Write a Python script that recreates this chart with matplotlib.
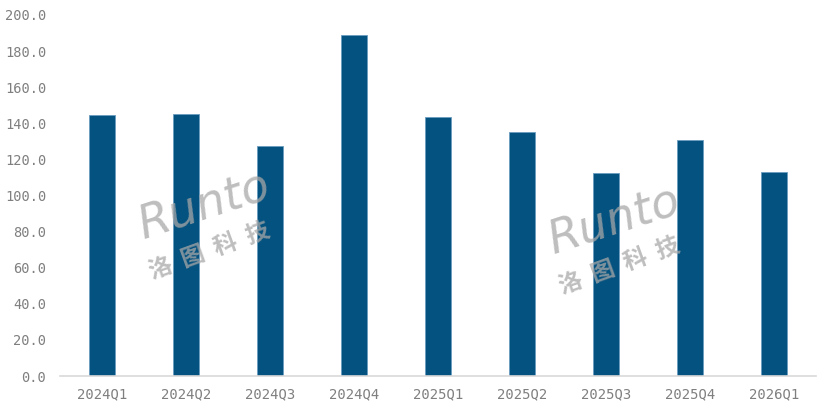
import matplotlib
matplotlib.use("Agg")
import matplotlib.pyplot as plt

quarters = ["2024Q1", "2024Q2", "2024Q3", "2024Q4", "2025Q1",
            "2025Q2", "2025Q3", "2025Q4", "2026Q1"]
values = [144.6, 145.0, 127.4, 188.8, 143.3, 135.0, 112.6, 130.6, 113.0]
yticks = [0, 20, 40, 60, 80, 100, 120, 140, 160, 180, 200]

bar_color = "#04527F"
text_color = "#7F7F7F"

fig = plt.figure(figsize=(8.3, 4.09), dpi=100)
ax = fig.add_axes([60 / 830, 33 / 409, 756 / 830, 361 / 409])

x = list(range(len(quarters)))
ax.bar(x, values, width=0.31, color=bar_color, edgecolor="#6a9cc0", linewidth=0.6, zorder=2)

ax.set_xlim(-0.5, len(quarters) - 0.5)
ax.set_ylim(0, 200)
ax.set_yticks(yticks)
ax.set_yticklabels([f"{v:.1f}" for v in yticks], fontsize=9.8,
                   family="DejaVu Sans Mono", color=text_color)
ax.set_xticks(x)
ax.set_xticklabels(quarters, fontsize=10, family="DejaVu Sans Mono", color=text_color)
ax.tick_params(axis="both", length=0)
ax.tick_params(axis="y", pad=10)
ax.tick_params(axis="x", pad=8)

for side in ["top", "right", "left"]:
    ax.spines[side].set_visible(False)
ax.spines["bottom"].set_color("#D9D9D9")
ax.spines["bottom"].set_linewidth(1.2)

# watermark, two copies
for wx, wy in [(205 / 830, 1 - 210 / 409), (615 / 830, 1 - 225 / 409)]:
    fig.text(wx, wy + 0.01, "Runto", fontsize=33, style="italic", color="#a8a8a8",
             alpha=0.75, rotation=18, ha="center", va="center", family="DejaVu Sans",
             fontweight="light", zorder=5)
    fig.text(wx + 0.005, wy - 0.1, "洛  图  科  技", fontsize=17, color="#a8a8a8",
             alpha=0.75, rotation=20, ha="center", va="center",
             family=["Noto Sans CJK SC", "DejaVu Sans"], fontweight="bold", zorder=5)

fig.savefig("out.png", dpi=100)
